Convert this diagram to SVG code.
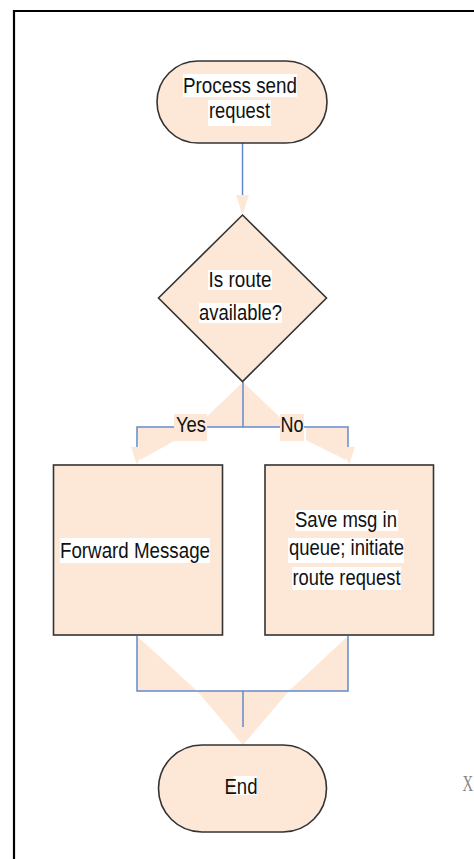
<svg xmlns="http://www.w3.org/2000/svg" width="474" height="859" viewBox="0 0 474 859">
<style>
.node{fill:#FDE8D8;stroke:#333;stroke-width:1.6}
.t{font-family:"Liberation Sans",Arial,sans-serif;font-size:22px;fill:#111;text-anchor:middle}
.bg{fill:#fff}
.lbg{fill:#FDE8D8}
.ln{fill:none;stroke:#6489C9;stroke-width:1.5}
.hd{fill:#FDE8D8;stroke:none}
</style>
<rect width="474" height="859" fill="#fff"/>
<g id="frame"><path d="M14,859 V11 H474" fill="none" stroke="#000" stroke-width="2.2"/></g>
<g id="connectors">
  <polygon class="hd" points="243,382 196,427 290,427"/>
  <polygon class="hd" points="137,428 178,428 176,440 140,460"/>
  <polygon class="hd" points="131,447 144,447 137,465"/>
  <polygon class="hd" points="348,428 306,428 306,440 346,460"/>
  <polygon class="hd" points="342,447 355,447 349,465"/>
  <polygon class="hd" points="137,636 137,691 197,691"/>
  <polygon class="hd" points="348,636 348,691 289,691"/>
  <polygon class="hd" points="197,691 289,691 243,745"/>
  <polygon class="hd" points="236,195 249,195 242.5,215"/>
  <path class="ln" d="M242.5,143 V195"/>
  <path class="ln" d="M243,382 V427 M137,447 V427 H348 V447"/>
  <path class="ln" d="M137,636 V691 H348 V636 M243,691 V727"/>
  <g id="label-yes"><rect class="lbg" x="174" y="414" width="33" height="27"/><text class="t" x="191" y="432" textLength="30" lengthAdjust="spacingAndGlyphs">Yes</text></g>
  <g id="label-no"><rect class="lbg" x="280" y="414" width="24" height="27"/><text class="t" x="292" y="432" textLength="23" lengthAdjust="spacingAndGlyphs">No</text></g>
</g>
<g id="node-start">
  <rect class="node" x="157" y="61" width="170" height="82" rx="41"/>
  <rect class="bg" x="183" y="74" width="114" height="23"/>
  <rect class="bg" x="208" y="100" width="63" height="26"/>
  <text class="t" x="240" y="93" textLength="114" lengthAdjust="spacingAndGlyphs">Process send</text>
  <text class="t" x="239.5" y="118" textLength="61" lengthAdjust="spacingAndGlyphs">request</text>
</g>
<g id="node-decision">
  <polygon class="node" points="242.5,215 326.5,298 242.5,381.5 158.5,298"/>
  <rect class="bg" x="208" y="270" width="64" height="20"/>
  <rect class="bg" x="199" y="303" width="83" height="20"/>
  <text class="t" x="240" y="287" textLength="63" lengthAdjust="spacingAndGlyphs">Is route</text>
  <text class="t" x="240.5" y="320" textLength="83" lengthAdjust="spacingAndGlyphs">available?</text>
</g>
<g id="node-forward">
  <rect class="node" x="53.5" y="465" width="169" height="170"/>
  <rect class="bg" x="60" y="538" width="150" height="25"/>
  <text class="t" x="135" y="558" textLength="150" lengthAdjust="spacingAndGlyphs">Forward Message</text>
</g>
<g id="node-save">
  <rect class="node" x="265" y="465" width="168.5" height="170"/>
  <rect class="bg" x="295" y="510" width="103" height="21"/>
  <rect class="bg" x="288" y="538" width="116" height="25"/>
  <rect class="bg" x="292" y="567" width="109" height="23"/>
  <text class="t" x="346" y="526.5" textLength="102" lengthAdjust="spacingAndGlyphs">Save msg in</text>
  <text class="t" x="346.5" y="555" textLength="115" lengthAdjust="spacingAndGlyphs">queue; initiate</text>
  <text class="t" x="346.5" y="585" textLength="108" lengthAdjust="spacingAndGlyphs">route request</text>
</g>
<g id="node-end">
  <rect class="node" x="158.5" y="745" width="168" height="87" rx="43.5"/>
  <rect class="bg" x="233" y="776" width="24" height="19"/>
  <text class="t" x="241" y="794" textLength="33" lengthAdjust="spacingAndGlyphs">End</text>
</g>
<text transform="translate(462.5,791) scale(0.64,1)" x="0" y="0" font-family="'Liberation Serif',serif" font-size="23" fill="#888">X</text>
</svg>
